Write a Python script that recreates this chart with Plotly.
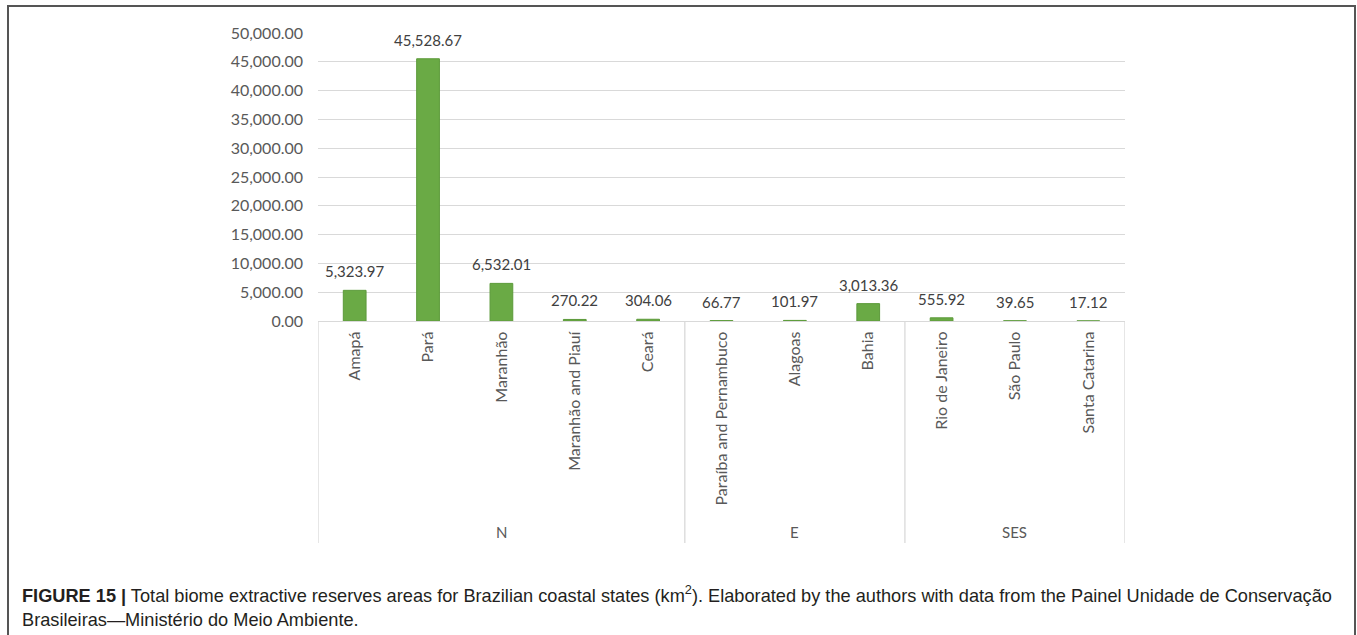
import plotly.graph_objects as go

# ---- data ----
states = ["Amapá", "Pará", "Maranhão", "Maranhão and Piauí", "Ceará",
          "Paraíba and Pernambuco", "Alagoas", "Bahia",
          "Rio de Janeiro", "São Paulo", "Santa Catarina"]
areas = [5323.97, 45528.67, 6532.01, 270.22, 304.06,
         66.77, 101.97, 3013.36,
         555.92, 39.65, 17.12]
regions = ["N", "E", "SES"]
region_sizes = [5, 3, 3]
y_ticks = [0, 5000, 10000, 15000, 20000, 25000, 30000, 35000, 40000, 45000, 50000]

W, H = 1357, 635
L, R, T, B = 318, 1125, 33, 321


def xp(px):
    return (px - L) / (R - L)


def yp(py):
    return (B - py) / (B - T)


FONT = "Lato"
GRAY = "#595959"

xs = list(range(len(states)))

fig = go.Figure()
fig.add_trace(go.Bar(
    x=xs, y=areas,
    marker=dict(color="#6aaa45", line=dict(color="#5c9a3a", width=1)),
    width=0.31,
    hoverinfo="skip",
))

annotations = []
for i, v in zip(xs, areas):
    annotations.append(dict(
        x=i, y=v, xref="x", yref="y",
        text=f"{v:,.2f}", showarrow=False,
        yanchor="middle", yshift=19,
        font=dict(family=FONT, size=15, color="#404040"),
    ))

shapes = []
start = 0
bounds = [-0.5]
for name, n in zip(regions, region_sizes):
    end = start + n
    bounds.append(end - 0.5)
    annotations.append(dict(
        x=(start + end - 1) / 2, y=yp(532), xref="x", yref="paper",
        text=name, showarrow=False, yanchor="middle",
        font=dict(family=FONT, size=15, color=GRAY),
    ))
    start = end
for b in bounds:
    shapes.append(dict(type="line", xref="x", yref="paper",
                       x0=b, x1=b, y0=0, y1=yp(543),
                       line=dict(color="#d9d9d9", width=1.3)))

# outer frame
shapes.append(dict(type="rect", xref="paper", yref="paper",
                   x0=xp(8), x1=xp(1355), y0=yp(6), y1=yp(660),
                   line=dict(color="#555555", width=2)))

# caption
cap_font = dict(family="Liberation Sans", size=18.2, color="#231f20")
annotations.append(dict(
    x=xp(20), y=yp(594), xref="paper", yref="paper",
    xanchor="left", yanchor="middle", showarrow=False, align="left",
    text="<b>FIGURE 15 |</b> Total biome extractive reserves areas for Brazilian coastal states (km<sup>2</sup>). "
         "Elaborated by the authors with data from the Painel Unidade de Conservação",
    font=cap_font,
))
annotations.append(dict(
    x=xp(20), y=yp(620), xref="paper", yref="paper",
    xanchor="left", yanchor="middle", showarrow=False, align="left",
    text="Brasileiras\u2014Ministério do Meio Ambiente.",
    font=cap_font,
))

fig.update_layout(
    width=W, height=H,
    margin=dict(l=L, r=W - R, t=T, b=H - B, pad=0),
    paper_bgcolor="white", plot_bgcolor="white",
    showlegend=False,
    annotations=annotations,
    shapes=shapes,
    font=dict(family=FONT, color=GRAY),
)
fig.update_xaxes(
    range=[-0.5, len(states) - 0.5],
    tickvals=xs, ticktext=states, tickangle=-90,
    tickfont=dict(family=FONT, size=16, color=GRAY),
    showgrid=False, zeroline=False,
    showline=True, linecolor="#d9d9d9", linewidth=1.3,
    ticks="", ticklabelstandoff=3,
)
fig.update_yaxes(
    range=[0, 50000],
    tickvals=y_ticks, tickformat=",.2f",
    tickfont=dict(family=FONT, size=16, color=GRAY),
    showgrid=True, gridcolor="#d9d9d9", gridwidth=1,
    zeroline=False, showline=False, ticks="",
    ticklabelstandoff=14,
)

fig.write_html(
    "out.html",
    config={"displayModeBar": False},
    post_script="document.body.style.margin='0';document.body.style.overflow='hidden';",
)
